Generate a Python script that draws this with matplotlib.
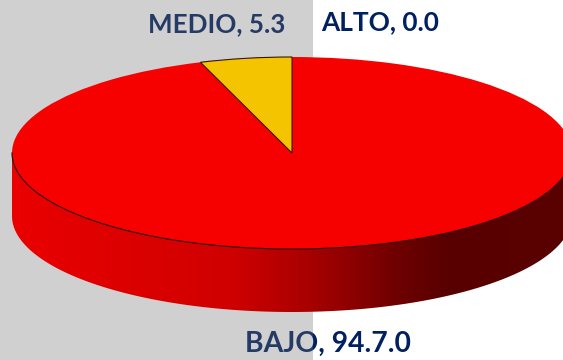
import numpy as np
import matplotlib
matplotlib.use("Agg")
import matplotlib.pyplot as plt
from matplotlib.colors import LinearSegmentedColormap
from matplotlib.patches import Rectangle, PathPatch
from matplotlib.path import Path

categories = ["ALTO", "MEDIO", "BAJO"]
values = [0.0, 5.3, 94.7]
value_labels = ["0.0", "5.3", "94.7.0"]
colors = ["#002060", "#F5C400", "#F60000"]
edge_colors = ["none", "#3A1200", "none"]

W, H = 563, 360
CX, CY, RX, RY, DEPTH = 292, 153, 280, 96, 63

fig = plt.figure(figsize=(W / 100, H / 100), dpi=100, facecolor="white")
ax = fig.add_axes([0, 0, 1, 1])

wedges, _ = ax.pie(values, colors=colors, startangle=90, counterclock=True, radius=1,
                   wedgeprops=dict(linewidth=0.8, zorder=5))
for w, e in zip(wedges, edge_colors):
    w.set_edgecolor(e)
wedges[1].set_zorder(5.5)
ax.set_aspect("auto")
ax.axis("off")

# side of the cylinder: gradient clipped to the lower half band
d = DEPTH / RY
theta = np.linspace(np.pi, 2 * np.pi, 200)
top = np.c_[np.cos(theta), np.sin(theta)]
bot = np.c_[np.cos(theta[::-1]), np.sin(theta[::-1]) - d]
verts = np.r_[top, bot, top[:1]]
band = PathPatch(Path(verts, closed=True), transform=ax.transData, fc="none", ec="none")
ax.add_patch(band)
side_cmap = LinearSegmentedColormap.from_list(
    "side", [(0, "#EA0000"), (0.39, "#D00000"), (0.54, "#A50000"), (0.69, "#6E0000"),
             (0.78, "#580000"), (1, "#5A0000")])
im = ax.imshow(np.linspace(0, 1, 512)[None, :], cmap=side_cmap, aspect="auto",
               extent=(-1, 1, -1 - d, 0), zorder=4)
im.set_clip_path(band)
ax.set_xlim(-CX / RX, (W - CX) / RX)
ax.set_ylim((CY - H) / RY, CY / RY)
ax.plot(top[:, 0], top[:, 1], color="#2A0000", lw=0.8, zorder=6)

# labels sit beneath the translucent grey panel
positions = {"ALTO": (321, 22, 18.9), "MEDIO": (148, 24, 18.7), "BAJO": (245, 344, 20.3)}
for c, v in zip(categories, value_labels):
    px, py, fs = positions[c]
    fig.text(px / W, 1 - py / H, f"{c}, {v}", family="Lato", weight="bold", fontsize=fs,
             color="#002060", va="center", ha="left", zorder=1)

fig.patches.append(Rectangle((0, 0), 313 / W, 1, transform=fig.transFigure,
                             fc=(114 / 255, 114 / 255, 114 / 255), alpha=0.333, ec="none", zorder=2))
ax.set_zorder(3)
ax.patch.set_visible(False)
fig.savefig("out.png", dpi=100)
